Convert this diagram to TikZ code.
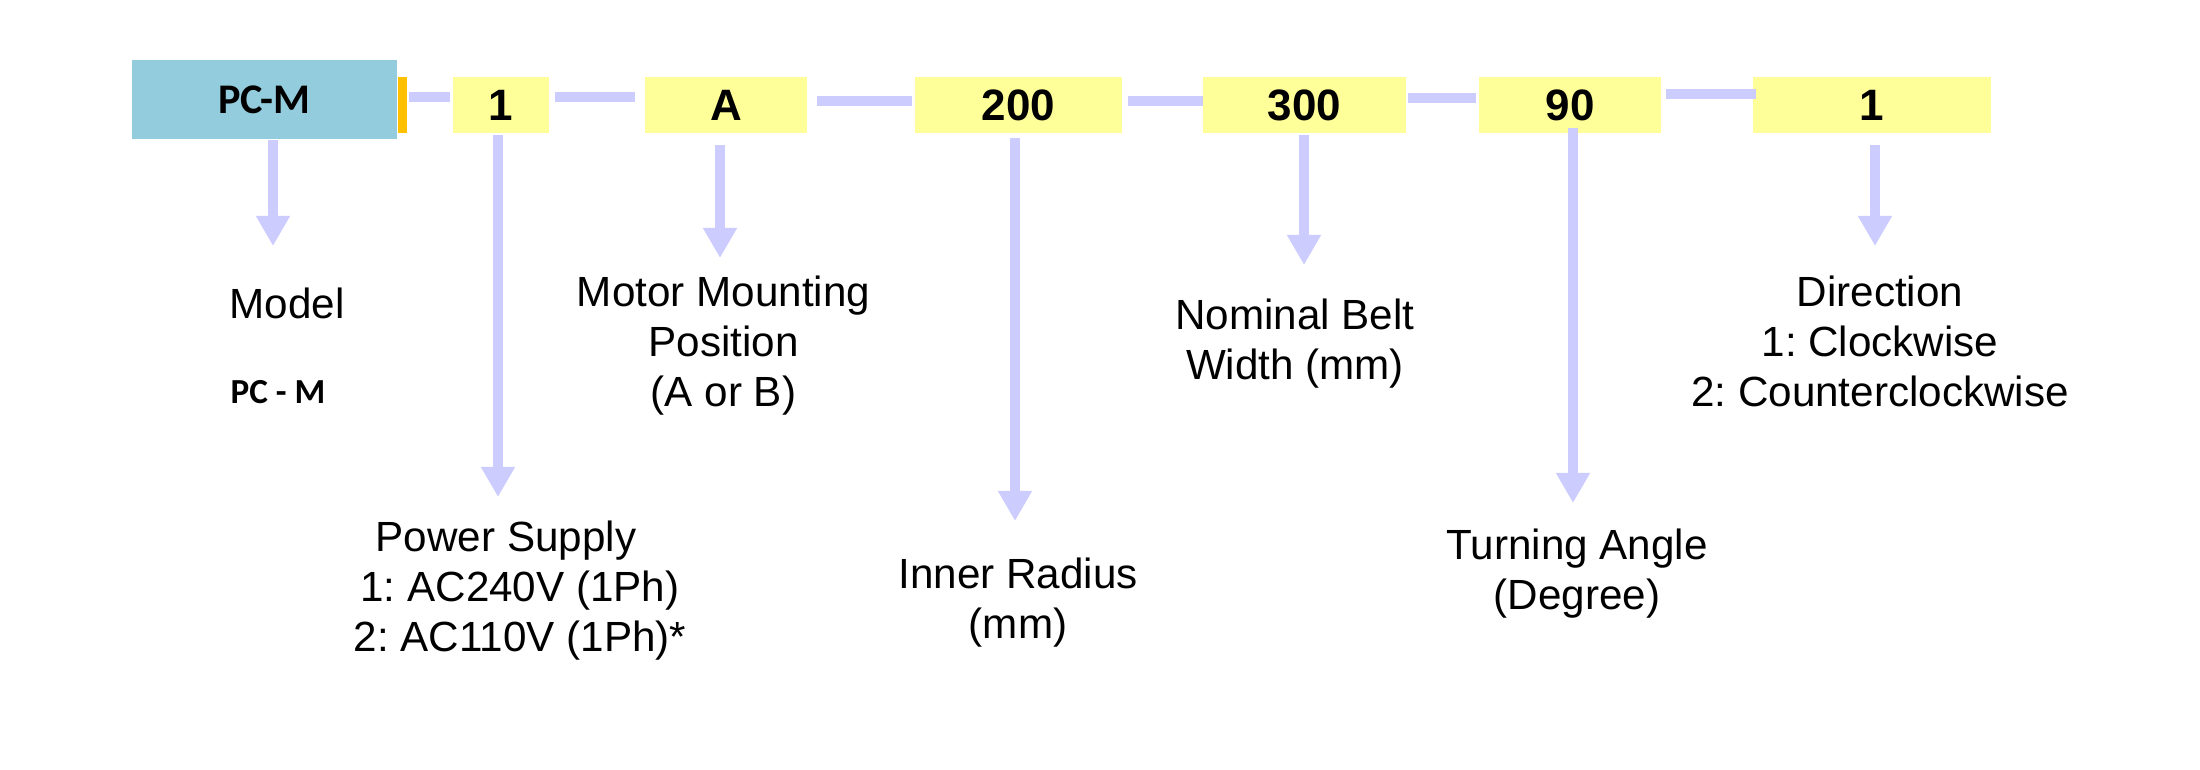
\documentclass[tikz,border=0pt]{standalone}
\usepackage{fontspec}
\setmainfont{Liberation Sans}
\newfontfamily\calibrifont{Carlito}
\usetikzlibrary{arrows.meta}
\definecolor{codeyellow}{HTML}{FFFF99}
\definecolor{modelblue}{HTML}{93CDDD}
\definecolor{tabamber}{HTML}{FFC000}
\definecolor{flow}{HTML}{CCCCFF}
\frenchspacing
\begin{document}
\begin{tikzpicture}[x=0.01cm,y=-0.01cm,
        code/.style={fill=codeyellow,minimum height=0.56cm,inner sep=0pt,font=\fontsize{12.5}{15}\selectfont\bfseries},
        link/.style={draw=flow,line width=0.1cm},
        pointer/.style={draw=flow,line width=0.1cm,-{Triangle[width=0.32cm,length=0.3cm]}},
        desc/.style={align=center,inner sep=0pt,anchor=north,font=\fontsize{12}{14.23}\selectfont}]
        \useasboundingbox[fill=white] (0,0) rectangle (2200,770);
        \node[fill=modelblue,minimum width=2.65cm,minimum height=0.79cm,inner sep=0pt,font=\calibrifont\fontsize{12}{14}\selectfont\bfseries] (pcm) at (264.5,99.5) {PC-M};
        \node[fill=tabamber,minimum width=0.085cm,minimum height=0.56cm,inner sep=0pt,anchor=west] (tab) at (pcm.east |- 0,105) {};
        \node[code,minimum width=0.96cm] (c1) at (501,105) {1};
        \node[code,minimum width=1.62cm] (cA) at (726,105) {A};
        \node[code,minimum width=2.07cm] (c200) at (1018.5,105) {200};
        \node[code,minimum width=2.03cm] (c300) at (1304.5,105) {300};
        \node[code,minimum width=1.82cm] (c90) at (1570,105) {90};
        \node[code,minimum width=2.38cm] (cdir) at (1872,105) {1};
        \draw[link,shorten <=0.015cm,shorten >=0.025cm] (tab.east |- 0,97) -- (c1.west |- 0,97);
        \draw[link,shorten <=0.05cm,shorten >=0.095cm] (c1.east |- 0,97) -- (cA.west |- 0,97);
        \draw[link,shorten <=0.09cm,shorten >=0.02cm] (cA.east |- 0,101) -- (c200.west |- 0,101);
        \draw[link,shorten <=0.05cm,shorten >=-0.01cm] (c200.east |- 0,101) -- (c300.west |- 0,101);
        \draw[link,shorten <=0.015cm,shorten >=0.02cm] (c300.east |- 0,98) -- (c90.west |- 0,98);
        \draw[link,shorten <=0.04cm,shorten >=-0.04cm] (c90.east |- 0,94) -- (cdir.west |- 0,94);
        \node[desc] (model) at (287,287) {Model};
        \node[desc,font=\calibrifont\fontsize{10}{12}\selectfont\bfseries] (modelname) at (278,380) {PC - M};
        \node[desc] (mounting) at (723.5,275) {Motor Mounting\\Position\\(A or B)};
        \node[desc] (supply) at (520,520) {Power Supply\kern0.28cm\\1: AC240V (1Ph)\\2: AC110V (1Ph)*};
        \node[desc] (radius) at (1018,557) {Inner Radius\\(mm)};
        \node[desc] (beltwidth) at (1295,298) {Nominal Belt\\Width (mm)};
        \node[desc] (angle) at (1577,528) {Turning Angle\\(Degree)};
        \node[desc] (direction) at (1880,275) {Direction\\1: Clockwise\\2: Counterclockwise};
        \coordinate (modeltip) at (273,246);
        \coordinate (supplytip) at (498,497);
        \coordinate (mountingtip) at (720,258);
        \coordinate (radiustip) at (1015,521);
        \coordinate (widthtip) at (1304,265);
        \coordinate (angletip) at (1573,503);
        \coordinate (directiontip) at (1875,246);
        \draw[pointer] (pcm.south -| modeltip) -- (modeltip);
        \draw[pointer,shorten <=0.01cm] (c1.south -| supplytip) -- (supplytip);
        \draw[pointer,shorten <=0.11cm] (cA.south -| mountingtip) -- (mountingtip);
        \draw[pointer,shorten <=0.04cm] (c200.south -| radiustip) -- (radiustip);
        \draw[pointer,shorten <=0.01cm] (c300.south -| widthtip) -- (widthtip);
        \draw[pointer,shorten <=-0.06cm] (c90.south -| angletip) -- (angletip);
        \draw[pointer,shorten <=0.11cm] (cdir.south -| directiontip) -- (directiontip);
\end{tikzpicture}
\end{document}
